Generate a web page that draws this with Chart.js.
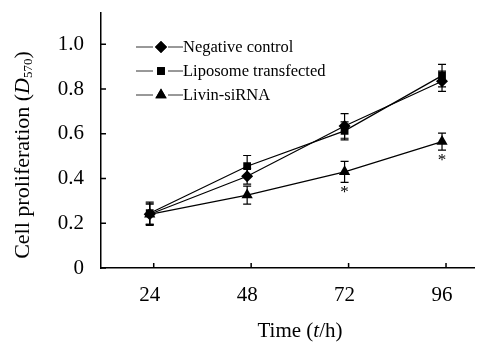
<!DOCTYPE html>
<html>
<head>
<meta charset="utf-8">
<script src="https://cdn.jsdelivr.net/npm/chart.js@4.4.1/dist/chart.umd.min.js"></script>
<style>
  html, body { margin: 0; padding: 0; background: #fff; }
  #wrap { width: 481px; height: 343px; position: relative; }
</style>
</head>
<body>
<div id="wrap"><canvas id="prolifChart" width="481" height="343"></canvas></div>
<script>
const hours = [24, 48, 72, 96];
const negControl = [0.24, 0.41, 0.635, 0.835];
const negControlErr = [0.05, 0.035, 0.055, 0.045];
const liposome = [0.245, 0.455, 0.613, 0.86];
const liposomeErr = [0.05, 0.048, 0.04, 0.05];
const livin = [0.24, 0.326, 0.43, 0.565];
const livinErr = [0.045, 0.04, 0.047, 0.038];
const yTicks = [0, 0.2, 0.4, 0.6, 0.8, 1.0];
const xTicks = [24, 48, 72, 96];
const starHours = [72, 96];
const legendNames = ['Negative control', 'Liposome transfected', 'Livin-siRNA'];

const serif = '"Liberation Serif", "Times New Roman", serif';

function toPoints(vals) {
    return hours.map((h, i) => ({ x: h, y: vals[i] }));
}

// error bars, inward ticks, legend, titles
const extras = {
    id: 'extras',
    afterDatasetsDraw(chart) {
        const { ctx, scales: { x, y }, chartArea } = chart;
        ctx.save();
        ctx.strokeStyle = '#000';
        ctx.fillStyle = '#000';
        ctx.lineWidth = 1.2;

        // error bars
        const errs = [negControlErr, liposomeErr, livinErr];
        chart.data.datasets.forEach((ds, d) => {
            ds.data.forEach((p, i) => {
                const px = x.getPixelForValue(p.x);
                const top = y.getPixelForValue(p.y + errs[d][i]);
                const bot = y.getPixelForValue(p.y - errs[d][i]);
                ctx.beginPath();
                ctx.moveTo(px, top); ctx.lineTo(px, bot);
                ctx.moveTo(px - 4, top); ctx.lineTo(px + 4, top);
                ctx.moveTo(px - 4, bot); ctx.lineTo(px + 4, bot);
                ctx.stroke();
            });
        });

        // significance stars under Livin-siRNA
        ctx.font = '17px ' + serif;
        ctx.textAlign = 'center';
        ctx.textBaseline = 'middle';
        starHours.forEach(h => {
            const i = hours.indexOf(h);
            const px = x.getPixelForValue(h);
            const py = y.getPixelForValue(livin[i] - livinErr[i]);
            ctx.fillText('*', px, py + 10);
        });

        // inward ticks
        ctx.lineWidth = 1.5;
        ctx.beginPath();
        yTicks.forEach(v => {
            const py = y.getPixelForValue(v);
            ctx.moveTo(chartArea.left, py); ctx.lineTo(chartArea.left + 5, py);
        });
        xTicks.forEach(v => {
            const px = x.getPixelForValue(v) + 4;
            ctx.moveTo(px, chartArea.bottom); ctx.lineTo(px, chartArea.bottom - 5);
        });
        ctx.stroke();

        // legend
        const styles = ['rectRot', 'rect', 'triangle'];
        const radii = [6, 5.5, 6.5];
        ctx.font = '16.5px ' + serif;
        ctx.textAlign = 'left';
        legendNames.forEach((name, i) => {
            const ly = 47 + i * 24;
            ctx.lineWidth = 1;
            ctx.strokeStyle = '#333';
            ctx.beginPath();
            ctx.moveTo(136, ly); ctx.lineTo(153, ly);
            ctx.moveTo(168, ly); ctx.lineTo(183, ly);
            ctx.stroke();
            Chart.helpers.drawPoint(ctx, { pointStyle: styles[i], radius: radii[i], borderWidth: 0 }, 161, ly);
            ctx.fill();
            ctx.fillText(name, 183, ly + 1);
        });

        // x title
        ctx.textAlign = 'left';
        const parts = [['Time (', ''], ['t', 'italic '], ['/h)', '']];
        let total = 0;
        parts.forEach(p => { ctx.font = p[1] + '21px ' + serif; total += ctx.measureText(p[0]).width; });
        let tx = 300 - total / 2;
        parts.forEach(p => {
            ctx.font = p[1] + '21px ' + serif;
            ctx.fillText(p[0], tx, 331);
            tx += ctx.measureText(p[0]).width;
        });

        // y title, rotated
        ctx.translate(23, 155);
        ctx.rotate(-Math.PI / 2);
        const yParts = [['Cell proliferation (', '', 22, 0], ['D', 'italic ', 22, 0], ['570', '', 13, 6], [')', '', 22, 0]];
        total = 0;
        yParts.forEach(p => { ctx.font = p[1] + p[2] + 'px ' + serif; total += ctx.measureText(p[0]).width; });
        tx = -total / 2;
        yParts.forEach(p => {
            ctx.font = p[1] + p[2] + 'px ' + serif;
            ctx.fillText(p[0], tx, p[3]);
            tx += ctx.measureText(p[0]).width;
        });
        ctx.restore();
    }
};

const ctx = document.getElementById('prolifChart').getContext('2d');
const prolifChart = new Chart(ctx, {
    type: 'line',
    data: {
        datasets: [{
            label: legendNames[0],
            data: toPoints(negControl),
            pointStyle: 'rectRot',
            pointRadius: 6
        }, {
            label: legendNames[1],
            data: toPoints(liposome),
            pointStyle: 'rect',
            pointRadius: 5.5
        }, {
            label: legendNames[2],
            data: toPoints(livin),
            pointStyle: 'triangle',
            pointRadius: 6.5
        }].map(ds => Object.assign(ds, {
            borderColor: '#000',
            backgroundColor: '#000',
            borderWidth: 1.2,
            pointBorderWidth: 0,
            tension: 0
        }))
    },
    options: {
        responsive: false,
        animation: false,
        layout: { padding: { top: 13, right: 0 } },
        plugins: { legend: { display: false }, tooltip: { enabled: false } },
        scales: {
            x: {
                type: 'linear',
                min: 12,
                max: 104,
                afterBuildTicks: s => { s.ticks = xTicks.map(v => ({ value: v })); },
                afterFit: s => { s.height = 75; s.paddingRight = 0; s.paddingLeft = 0; },
                grid: { display: false },
                border: { color: '#000', width: 1.5 },
                ticks: { color: '#000', font: { family: serif, size: 21 }, padding: 7 }
            },
            y: {
                min: 0,
                max: 1.14,
                afterBuildTicks: s => { s.ticks = yTicks.map(v => ({ value: v })); },
                afterFit: s => { s.width = 101; s.paddingTop = 0; s.paddingBottom = 0; },
                grid: { display: false },
                border: { color: '#000', width: 1.5 },
                ticks: {
                    color: '#000',
                    font: { family: serif, size: 21 },
                    padding: 9,
                    callback: v => v === 0 ? '0' : v.toFixed(1)
                }
            }
        }
    },
    plugins: [extras]
});
</script>
</body>
</html>
